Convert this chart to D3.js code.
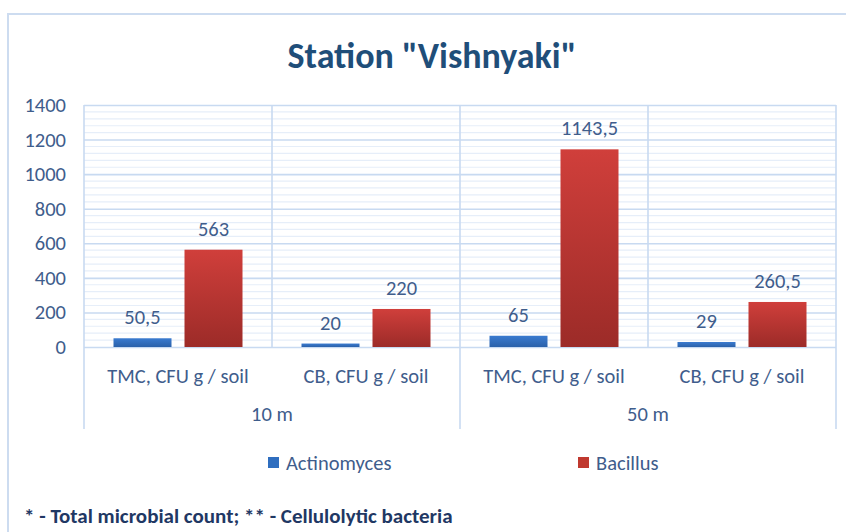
<!DOCTYPE html>
<html>
<head>
<meta charset="utf-8">
<script src="https://cdn.jsdelivr.net/npm/d3@7"></script>
<style>
  body { margin: 0; background: #fff; }
  text { font-family: Carlito, Lato, 'Open Sans', sans-serif; }
</style>
</head>
<body>
<div id="wrapper"></div>
<script>
const groups = ['10 m', '50 m'];
const categories = ['TMC, CFU g / soil', 'CB, CFU g / soil', 'TMC, CFU g / soil', 'CB, CFU g / soil'];
const seriesNames = ['Actinomyces', 'Bacillus'];
const actinomyces = [50.5, 20, 65, 29];
const bacillus = [563, 220, 1143.5, 260.5];
const yTicks = [0, 200, 400, 600, 800, 1000, 1200, 1400];

function drawBarChart() {
  let dimensions = {
    width: 846,
    height: 532,
    margins: { top: 105, right: 10, bottom: 185, left: 84 }
  };
  dimensions.boundedWidth = dimensions.width - dimensions.margins.left - dimensions.margins.right;
  dimensions.boundedHeight = dimensions.height - dimensions.margins.top - dimensions.margins.bottom;

  const textColor = '#3f5d8c';
  const gridMajor = '#c8daf1';
  const gridMinor = '#e6eef9';
  const colors = ['#2f6ebf', '#c0392f'];
  const fontSize = 20.5;

  const wrapper = d3.select('#wrapper')
    .append('svg')
      .attr('width', dimensions.width)
      .attr('height', dimensions.height);

  const defs = wrapper.append('defs');
  const grads = [['#3a7bd0', '#2a61aa'], ['#d03f3b', '#9c2b28']];
  grads.forEach((g, i) => {
    const lg = defs.append('linearGradient')
        .attr('id', 'grad' + i)
        .attr('x1', 0).attr('y1', 0).attr('x2', 0).attr('y2', 1);
    lg.append('stop').attr('offset', '0%').attr('stop-color', g[0]);
    lg.append('stop').attr('offset', '100%').attr('stop-color', g[1]);
  });

  // chart border
  wrapper.append('rect')
      .attr('x', 8)
      .attr('y', 14)
      .attr('width', 900)
      .attr('height', 600)
      .attr('fill', 'none')
      .attr('stroke', '#cddcf0')
      .attr('stroke-width', 2);

  wrapper.append('text')
      .attr('x', 432)
      .attr('y', 56)
      .attr('text-anchor', 'middle')
      .attr('dominant-baseline', 'central')
      .attr('fill', '#1f4e79')
      .attr('font-size', 36)
      .attr('font-weight', 'bold')
      .text('Station "Vishnyaki"');

  const bounds = wrapper.append('g')
      .attr('transform', `translate(${dimensions.margins.left}, ${dimensions.margins.top})`);

  const plotWidth = 752;

  const yScale = d3.scaleLinear()
    .domain([0, 1400])
    .range([dimensions.boundedHeight, 0]);

  const xScale = d3.scaleBand()
    .domain(d3.range(categories.length))
    .range([0, plotWidth]);

  const innerScale = d3.scaleBand()
    .domain(seriesNames)
    .range([29.5, xScale.bandwidth() - 29.5])
    .paddingInner(13 / 71);

  // minor grid
  const minorTicks = d3.range(0, 1400, 40).filter(v => v % 200 !== 0);
  bounds.append('g').selectAll('line')
    .data(minorTicks)
    .join('line')
      .attr('x1', 0).attr('x2', plotWidth)
      .attr('y1', d => yScale(d)).attr('y2', d => yScale(d))
      .attr('stroke', gridMinor)
      .attr('stroke-width', 1.2);

  // major grid via axis
  const yAxisGenerator = d3.axisLeft(yScale)
      .tickValues(yTicks)
      .tickSize(-plotWidth)
      .tickPadding(18)
      .tickFormat(d3.format('d'));

  const yAxis = bounds.append('g')
      .attr('class', 'y-axis')
      .call(yAxisGenerator);
  yAxis.select('.domain').remove();
  yAxis.selectAll('.tick line')
      .attr('stroke', gridMajor)
      .attr('stroke-width', 1.6);
  yAxis.selectAll('.tick text')
      .attr('fill', textColor)
      .attr('font-size', fontSize)
      .attr('font-family', 'Carlito, Lato, sans-serif');

  // vertical dividers
  const boundaries = d3.range(categories.length + 1);
  bounds.append('g').selectAll('line')
    .data(boundaries)
    .join('line')
      .attr('x1', d => d * xScale.step())
      .attr('x2', d => d * xScale.step())
      .attr('y1', 0)
      .attr('y2', d => d % 2 === 0 ? 324 : dimensions.boundedHeight)
      .attr('stroke', gridMajor)
      .attr('stroke-width', 1.6);

  const fmt = d3.formatLocale({ decimal: ',', thousands: ' ', grouping: [3], currency: ['', ''] }).format('~f');

  const seriesData = [actinomyces, bacillus];
  const barGroups = bounds.append('g').selectAll('g')
    .data(seriesData)
    .join('g')
      .attr('fill', (d, i) => `url(#grad${i})`);

  barGroups.each(function (values, si) {
    const g = d3.select(this);
    g.selectAll('rect')
      .data(values)
      .join('rect')
        .attr('x', (d, i) => xScale(i) + innerScale(seriesNames[si]))
        .attr('width', innerScale.bandwidth())
        .attr('y', d => yScale(d))
        .attr('height', d => dimensions.boundedHeight - yScale(d));
    g.selectAll('text')
      .data(values)
      .join('text')
        .attr('x', (d, i) => xScale(i) + innerScale(seriesNames[si]) + innerScale.bandwidth() / 2)
        .attr('y', d => yScale(d) - 21)
        .attr('text-anchor', 'middle')
        .attr('dominant-baseline', 'central')
        .attr('fill', textColor)
        .attr('font-size', fontSize)
        .text(d => fmt(d));
  });

  // category labels
  bounds.append('g').selectAll('text')
    .data(categories)
    .join('text')
      .attr('x', (d, i) => xScale(i) + xScale.bandwidth() / 2)
      .attr('y', dimensions.boundedHeight + 29)
      .attr('text-anchor', 'middle')
      .attr('dominant-baseline', 'central')
      .attr('fill', textColor)
      .attr('font-size', fontSize)
      .text(d => d);

  // group labels
  bounds.append('g').selectAll('text')
    .data(groups)
    .join('text')
      .attr('x', (d, i) => (i * 2 + 1) * xScale.step())
      .attr('y', dimensions.boundedHeight + 67)
      .attr('text-anchor', 'middle')
      .attr('dominant-baseline', 'central')
      .attr('fill', textColor)
      .attr('font-size', fontSize)
      .text(d => d);

  // legend
  const legendX = [268, 578];
  const legend = wrapper.append('g').selectAll('g')
    .data(seriesNames)
    .join('g')
      .attr('transform', (d, i) => `translate(${legendX[i]}, 463)`);
  legend.append('rect')
      .attr('x', 0).attr('y', -6)
      .attr('width', 11).attr('height', 11)
      .attr('fill', (d, i) => colors[i]);
  legend.append('text')
      .attr('x', 18)
      .attr('y', 0)
      .attr('dominant-baseline', 'central')
      .attr('fill', textColor)
      .attr('font-size', fontSize)
      .text(d => d);

  wrapper.append('text')
      .attr('x', 24)
      .attr('y', 516)
      .attr('dominant-baseline', 'central')
      .attr('fill', '#1f3864')
      .attr('font-size', 21)
      .attr('font-weight', 'bold')
      .text('* - Total microbial count; ** - Cellulolytic bacteria');
}

drawBarChart();
</script>
</body>
</html>
